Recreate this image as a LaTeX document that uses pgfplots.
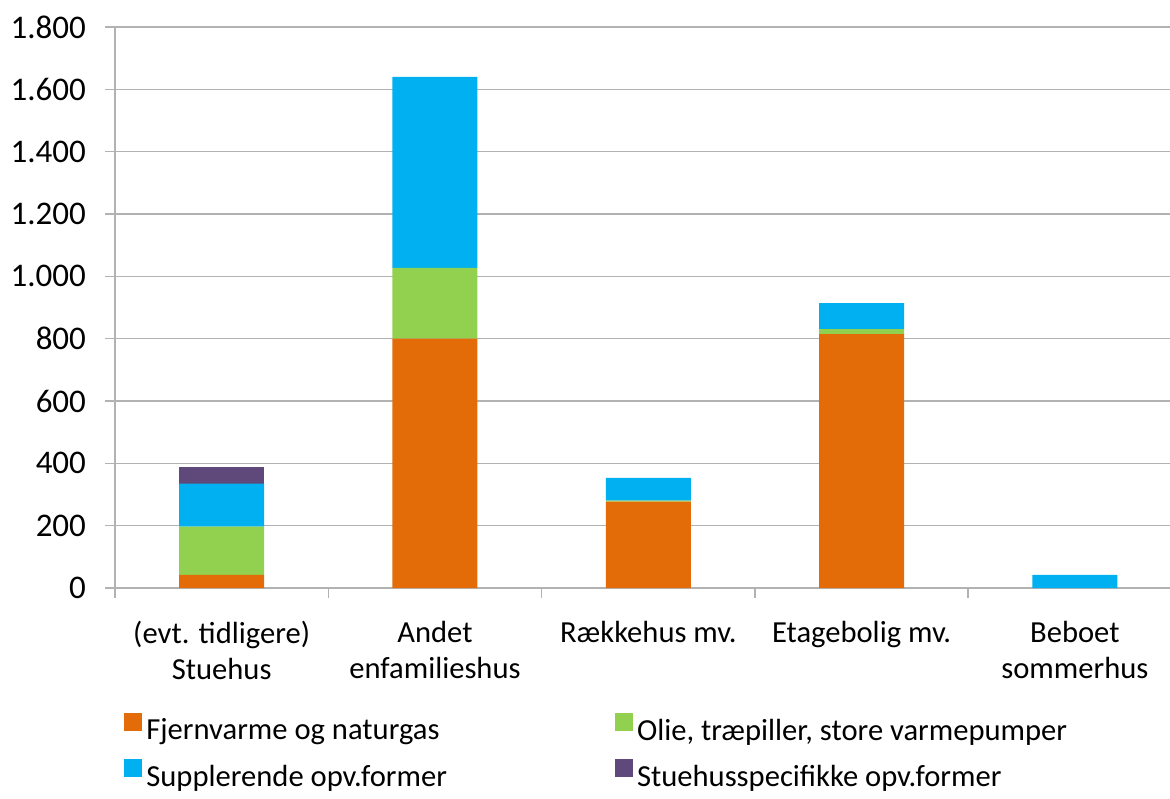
\documentclass[border=0pt]{standalone}
\usepackage{pgfplots}
\pgfplotsset{compat=1.18}
\usepackage{fontspec}
\setmainfont{Carlito}
\definecolor{corange}{RGB}{227,108,9}
\definecolor{cgreen}{RGB}{146,208,80}
\definecolor{cblue}{RGB}{0,176,240}
\definecolor{cpurple}{RGB}{95,73,122}
\definecolor{gridgray}{RGB}{178,178,178}
\begin{document}
\begin{tikzpicture}
\useasboundingbox (0,0) rectangle (585pt,-399pt);
\begin{axis}[
  at={(57.5pt,-294pt)}, anchor=south west,
  scale only axis, width=533.25pt, height=280.5pt,
  ybar stacked, bar width=42.5pt,
  xmin=-0.5, xmax=4.5, ymin=0, ymax=1800,
  enlargelimits=false,
  axis x line=bottom, axis y line=left,
  axis line style={draw=gridgray, line width=0.8pt, -},
  ytick={0,200,...,1800},
  ymajorgrids, major grid style={draw=gridgray, line width=0.8pt},
  tick align=outside,
  major tick length=5pt,
  tick style={draw=gridgray, line width=0.8pt},
  xtick={-0.5,0.5,...,4.5},
  xticklabels={},
  extra x ticks={0,1,2,3,4},
  extra x tick labels={{(evt. tidligere)\\Stuehus},{Andet\\enfamilieshus},{Rækkehus mv.},{Etagebolig mv.},{Beboet\\sommerhus}},
  extra x tick style={major tick length=0pt, grid=none},
  xticklabel style={align=center, font=\fontsize{15.3}{18}\selectfont, yshift=-13pt},
  yticklabel style={font=\fontsize{16.5}{18}\selectfont, xshift=-6pt},
  /pgf/number format/.cd, 1000 sep={.}, assume math mode=true,
  /pgfplots/.cd,
  legend columns=2,
  legend cell align=left,
  legend style={at={(0.0084,-0.222)}, anchor=north west, draw=none, inner sep=0pt,
    font=\fontsize{15.3}{18}\selectfont, row sep=6pt,
    /tikz/every even column/.append style={column sep=82pt}},
  legend image code/.code={\fill[#1] (0pt,0pt) rectangle (9pt,9pt);},
  every axis plot/.append style={draw=none},
]
\addplot+[fill=corange] coordinates {(0,42) (1,800) (2,277) (3,815) (4,0)};
\addlegendentry{Fjernvarme og naturgas}
\addplot+[fill=cgreen] coordinates {(0,155) (1,227) (2,3) (3,16) (4,0)};
\addlegendentry{Olie, træpiller, store varmepumper}
\addplot+[fill=cblue] coordinates {(0,138) (1,613) (2,73) (3,83) (4,42)};
\addlegendentry{Supplerende opv.former}
\addplot+[fill=cpurple] coordinates {(0,53) (1,0) (2,0) (3,0) (4,0)};
\addlegendentry{Stuehusspecifikke opv.former}
\end{axis}
\end{tikzpicture}
\end{document}
